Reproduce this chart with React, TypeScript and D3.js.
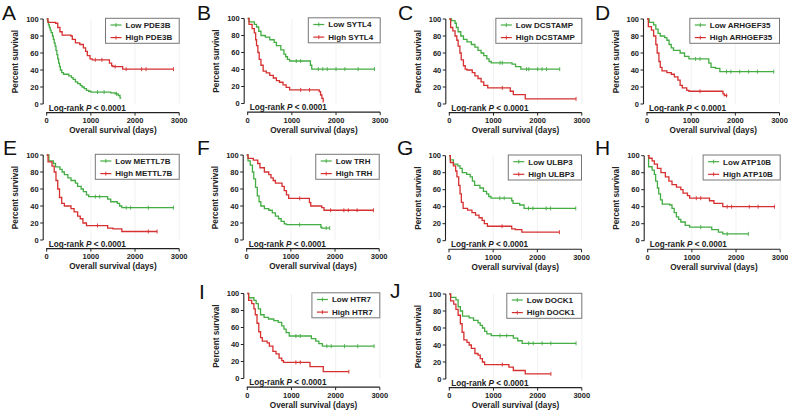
import React from "react";
import * as d3 from "d3";

type Pt = [number, number];

const letters = ["A", "B", "C", "D", "E", "F", "G", "H", "I", "J"];
const genes = ["PDE3B", "SYTL4", "DCSTAMP", "ARHGEF35", "METTL7B", "TRH", "ULBP3", "ATP10B", "HTR7", "DOCK1"];
const xTicks = [0, 1000, 2000, 3000];
const yTicks = [0, 20, 40, 60, 80, 100];
const pText = "< 0.0001";

// Kaplan-Meier steps: [days, percent surviving after that day]; last point = end of follow-up
const lowPDE3B: Pt[] = [[0,100],[20,97],[40,93],[60,90],[80,87],[100,84],[130,80],[150,76],[170,72],[190,68],[210,63],[230,58],[250,53],[270,48],[290,44],[310,40],[340,37],[380,35],[500,33],[560,31],[600,29],[650,26],[700,24],[760,22],[800,20],[850,18],[900,16],[950,15],[1000,14],[1450,13],[1550,12],[1620,10],[1660,7],[1690,7]];
const lowPDE3BCens = [1150, 1300, 1580];
const highPDE3B: Pt[] = [[0,100],[30,96],[200,95],[250,90],[300,85],[350,81],[550,80],[580,76],[650,72],[750,70],[830,66],[880,62],[920,57],[980,53],[1030,52],[1420,48],[1470,45],[1500,44],[1720,41],[2870,41]];
const highPDE3BCens = [1100, 1250, 1550, 1800, 2150, 2250, 2870];

const lowSYTL4: Pt[] = [[0,100],[30,96],[150,93],[200,90],[250,85],[300,80],[400,78],[500,75],[600,72],[650,68],[750,63],[820,58],[860,55],[900,52],[950,50],[1420,45],[1450,40.5],[2870,40.5]];
const lowSYTL4Cens = [1100, 1200, 1600, 1700, 1800, 2000, 2200, 2500, 2870];
const highSYTL4: Pt[] = [[0,100],[30,93],[100,88],[150,83],[180,75],[200,68],[230,60],[260,52],[300,45],[350,38],[420,36],[500,33],[580,30],[650,27],[720,25],[800,22],[870,19],[950,16],[1620,14],[1650,10],[1680,6],[1710,2],[1720,2]];
const highSYTL4Cens = [1200, 1400];

const lowDCSTAMP: Pt[] = [[0,100],[50,98],[130,95],[160,90],[200,85],[260,80],[320,76],[400,73],[500,70],[580,67],[650,63],[720,60],[780,57],[850,53],[900,50],[950,48.5],[1420,47],[1500,44],[1620,41],[2500,41]];
const lowDCSTAMPCens = [1150, 1200, 1750, 1800, 2000, 2100, 2200, 2500];
const highDCSTAMP: Pt[] = [[0,100],[30,90],[80,86],[130,80],[170,75],[200,68],[240,60],[270,52],[320,45],[360,41],[400,40],[520,37],[580,33],[650,30],[720,26],[780,22],[870,19],[1380,15],[1450,11],[1720,6],[2870,6]];
const highDCSTAMPCens = [1200, 2870];

const lowARHGEF35: Pt[] = [[0,100],[50,96],[150,93],[200,88],[250,83],[300,80],[400,78],[450,75],[500,70],[550,66],[600,63],[750,60],[850,56],[950,53],[1400,48],[1450,43],[1550,42],[1650,38],[2870,38]];
const lowARHGEF35Cens = [1100, 1200, 1800, 1900, 2100, 2300, 2500, 2870];
const highARHGEF35: Pt[] = [[0,100],[30,91],[100,87],[150,80],[200,70],[230,60],[270,50],[300,43],[340,39],[450,37],[550,35],[620,32],[700,28],[750,22],[800,19],[900,16],[950,15],[1720,12],[1750,10],[1820,10]];
const highARHGEF35Cens = [1200, 1800];

const lowMETTL7B: Pt[] = [[0,100],[50,93],[150,90],[200,86],[300,83],[350,80],[400,77],[480,73],[550,70],[650,67],[700,63],[780,60],[830,57],[900,53],[950,51],[1380,48],[1450,45],[1600,43],[1650,40],[1700,38],[2870,38]];
const lowMETTL7BCens = [1100, 1200, 1800, 1900, 2300, 2870];
const highMETTL7B: Pt[] = [[0,100],[30,92],[120,87],[170,80],[210,70],[250,60],[290,50],[340,43],[400,40],[550,37],[620,33],[700,28],[760,25],[820,20],[900,17],[1380,14],[1500,13],[1700,10],[2500,10]];
const highMETTL7BCens = [1150, 2300, 2500];

const lowTRH: Pt[] = [[0,100],[30,93],[80,88],[130,80],[160,72],[200,62],[240,52],[280,45],[320,40],[400,37],[500,35],[580,32],[650,28],[720,25],[780,22],[850,19],[900,18],[1680,15],[1700,14],[1880,14]];
const lowTRHCens = [1200, 1800, 1880];
const highTRH: Pt[] = [[0,100],[30,96],[150,94],[250,90],[300,85],[400,80],[500,77],[550,73],[600,70],[650,67],[800,63],[850,58],[900,53],[950,49],[1420,44],[1450,40],[1700,38],[1750,35],[2870,35]];
const highTRHCens = [1200, 1900, 2200, 2300, 2500, 2870];

const lowULBP3: Pt[] = [[0,100],[30,95],[100,90],[200,88],[250,85],[300,80],[400,78],[480,75],[530,70],[580,65],[700,62],[780,58],[850,55],[900,52],[950,50],[1420,47],[1450,44],[1600,42],[1700,38],[2870,38]];
const lowULBP3Cens = [1150, 1250, 1800, 1900, 2200, 2300, 2870];
const highULBP3: Pt[] = [[0,100],[30,92],[100,88],[150,82],[180,75],[220,65],[250,55],[280,45],[320,38],[420,36],[520,33],[600,30],[680,27],[750,24],[800,20],[870,17],[1420,14],[1500,13],[1650,10],[2500,10]];
const highULBP3Cens = [1200, 2500];

const lowATP10B: Pt[] = [[0,100],[20,87],[100,83],[150,78],[180,70],[220,62],[250,55],[290,48],[330,43],[500,42],[550,38],[600,33],[650,28],[700,25],[750,22],[850,18],[950,16],[1450,13],[1600,10],[1700,8],[2280,8]];
const lowATP10BCens = [1200, 1800, 2280];
const highATP10B: Pt[] = [[0,100],[30,97],[100,94],[150,90],[220,85],[300,80],[400,75],[480,70],[550,66],[650,63],[750,60],[800,56],[900,53],[950,50],[1400,47],[1500,44],[1700,40],[2870,40]];
const highATP10BCens = [1100, 1200, 1800, 1900, 2300, 2500, 2870];

const lowHTR7: Pt[] = [[0,100],[30,95],[150,92],[200,88],[250,82],[300,75],[380,72],[480,70],[600,68],[700,66],[780,62],[830,58],[880,54],[950,50],[1450,47],[1550,44],[1620,41],[1700,38],[2870,38]];
const lowHTR7Cens = [1100, 1200, 1800, 1900, 2200, 2500, 2870];
const highHTR7: Pt[] = [[0,100],[30,92],[100,88],[150,82],[180,75],[220,65],[260,55],[300,48],[340,44],[450,42],[500,38],[580,32],[650,29],[720,24],[780,21],[820,19],[1420,14],[1720,8],[2300,8]];
const highHTR7Cens = [1100, 1200, 2300];

const lowDOCK1: Pt[] = [[0,100],[30,96],[150,93],[200,85],[250,80],[300,74],[450,72],[550,69],[650,66],[700,63],[750,60],[800,56],[850,53],[950,51],[1450,48],[1550,45],[1650,42],[2870,42]];
const lowDOCK1Cens = [1150, 1300, 1800, 1900, 2100, 2300, 2870];
const highDOCK1: Pt[] = [[0,100],[30,92],[100,88],[150,82],[200,75],[250,65],[290,55],[330,46],[400,43],[450,40],[500,36],[580,30],[650,28],[700,24],[750,20],[800,17],[1350,14],[1450,10],[1720,6],[2300,6]];
const highDOCK1Cens = [1200, 2300];

const lowSeries = [lowPDE3B, lowSYTL4, lowDCSTAMP, lowARHGEF35, lowMETTL7B, lowTRH, lowULBP3, lowATP10B, lowHTR7, lowDOCK1];
const lowCensors = [lowPDE3BCens, lowSYTL4Cens, lowDCSTAMPCens, lowARHGEF35Cens, lowMETTL7BCens, lowTRHCens, lowULBP3Cens, lowATP10BCens, lowHTR7Cens, lowDOCK1Cens];
const highSeries = [highPDE3B, highSYTL4, highDCSTAMP, highARHGEF35, highMETTL7B, highTRH, highULBP3, highATP10B, highHTR7, highDOCK1];
const highCensors = [highPDE3BCens, highSYTL4Cens, highDCSTAMPCens, highARHGEF35Cens, highMETTL7BCens, highTRHCens, highULBP3Cens, highATP10BCens, highHTR7Cens, highDOCK1Cens];

// layout
const panelX0 = [46.7, 247.7, 449.3, 647, 46.7, 246.7, 449, 647.7, 247.3, 449.3];
const panelYTop = [19, 18.5, 19, 19, 155, 155, 155.7, 155.7, 293.5, 294];
const letterX = [2, 197, 398, 595, 3, 197, 397, 595, 199, 390];
const letterY = [20, 20, 20, 20, 155, 155, 155, 155, 299, 298];
const PW = 132.5;
const PH = 85;
const GREEN = "#44ad44";
const RED = "#d63030";
const FONT = "'Liberation Sans', Arial, sans-serif";

let measureCtx: CanvasRenderingContext2D | null = null;
function textWidth(s: string, font: string) {
  if (!measureCtx) measureCtx = document.createElement("canvas").getContext("2d");
  if (!measureCtx) return s.length * 5;
  measureCtx.font = font;
  return measureCtx.measureText(s).width;
}

function survAt(series: Pt[], t: number) {
  let s = series[0][1];
  for (const [tt, v] of series) if (tt <= t) s = v;
  return s;
}

function Curve({ data, cens, x, y, color }: any) {
  const line = d3.line<Pt>().x(d => x(d[0])).y(d => y(d[1])).curve(d3.curveStepAfter);
  return (
    <g>
      <path d={line(data) || ""} fill="none" stroke={color} strokeWidth={1.3} />
      {cens.map((t: number, i: number) => {
        const yy = y(survAt(data, t));
        return <line key={i} x1={x(t)} x2={x(t)} y1={yy - 2} y2={yy + 2} stroke={color} strokeWidth={0.9} />;
      })}
    </g>
  );
}

function Panel({ i }: { i: number }) {
  const x0 = panelX0[i];
  const yTop = panelYTop[i];
  const x = d3.scaleLinear().domain([0, 3000]).range([x0, x0 + PW]);
  const y = d3.scaleLinear().domain([0, 100]).range([yTop + PH, yTop]);
  const axisY = y(0) + 8.6;
  const yAxisX = x0 - 3.5;
  const lowLabel = "Low " + genes[i];
  const highLabel = "High " + genes[i];
  const tw = Math.max(textWidth(lowLabel, `bold 8px ${FONT}`), textWidth(highLabel, `bold 8px ${FONT}`));
  const lw = 20 + tw + 7;
  const lx = x(3000) - lw;
  const ly = yTop - 0.7;
  return (
    <g fontFamily={FONT}>
      <text x={letterX[i]} y={letterY[i]} fontSize={21} fill="#111">{letters[i]}</text>
      {xTicks.slice(1).map(t => (
        <line key={t} x1={x(t)} x2={x(t)} y1={yTop} y2={y(0)} stroke="#ededed" strokeWidth={0.8} />
      ))}
      <line x1={yAxisX} x2={yAxisX} y1={yTop} y2={y(0)} stroke="#222" strokeWidth={1.1} />
      {yTicks.map(t => (
        <g key={t}>
          <line x1={yAxisX - 3} x2={yAxisX} y1={y(t)} y2={y(t)} stroke="#222" strokeWidth={1} />
          <text x={yAxisX - 4.5} y={y(t)} dy="0.35em" textAnchor="end" fontSize={7.5} fontWeight="bold" fill="#222">{t}</text>
        </g>
      ))}
      <line x1={x0 - 0.5} x2={x(3000)} y1={axisY} y2={axisY} stroke="#222" strokeWidth={1.1} />
      {xTicks.map(t => (
        <g key={t}>
          <line x1={x(t)} x2={x(t)} y1={axisY} y2={axisY + 3} stroke="#222" strokeWidth={1} />
          <text x={x(t)} y={axisY + 10.8} textAnchor="middle" fontSize={7.5} fontWeight="bold" fill="#222">{t}</text>
        </g>
      ))}
      <text x={(x(0) + x(3000)) / 2} y={axisY + 20.8} textAnchor="middle" fontSize={8.2} fontWeight="bold" fill="#222">Overall survival (days)</text>
      <text transform={`translate(${x0 - 28.5},${yTop + PH / 2}) rotate(-90)`} textAnchor="middle" fontSize={8.2} fontWeight="bold" fill="#222">Percent survival</text>
      <Curve data={lowSeries[i]} cens={lowCensors[i]} x={x} y={y} color={GREEN} />
      <Curve data={highSeries[i]} cens={highCensors[i]} x={x} y={y} color={RED} />
      <text x={x0 + 2} y={axisY - 2} fontSize={8.2} fontWeight="bold" fill="#222">
        Log-rank <tspan fontStyle="italic">P</tspan> {pText}
      </text>
      <rect x={lx} y={ly} width={lw} height={25} fill="#fff" stroke="#777" strokeWidth={1} />
      {[0, 1].map(k => {
        const cy = ly + 6.7 + k * 12.6;
        const col = k === 0 ? GREEN : RED;
        return (
          <g key={k}>
            <line x1={lx + 5} x2={lx + 16} y1={cy} y2={cy} stroke={col} strokeWidth={1.2} />
            <line x1={lx + 10.5} x2={lx + 10.5} y1={cy - 2} y2={cy + 2} stroke={col} strokeWidth={0.9} />
            <text x={lx + 20} y={cy} dy="0.35em" fontSize={8} fontWeight="bold" fill="#222">{k === 0 ? lowLabel : highLabel}</text>
          </g>
        );
      })}
    </g>
  );
}

export default function App() {
  return (
    <svg width={788} height={414} style={{ position: "absolute", left: 0, top: 0, background: "#fff" }}>
      <rect x={0} y={0} width={788} height={414} fill="#fff" />
      {letters.map((_, i) => <Panel key={i} i={i} />)}
    </svg>
  );
}
